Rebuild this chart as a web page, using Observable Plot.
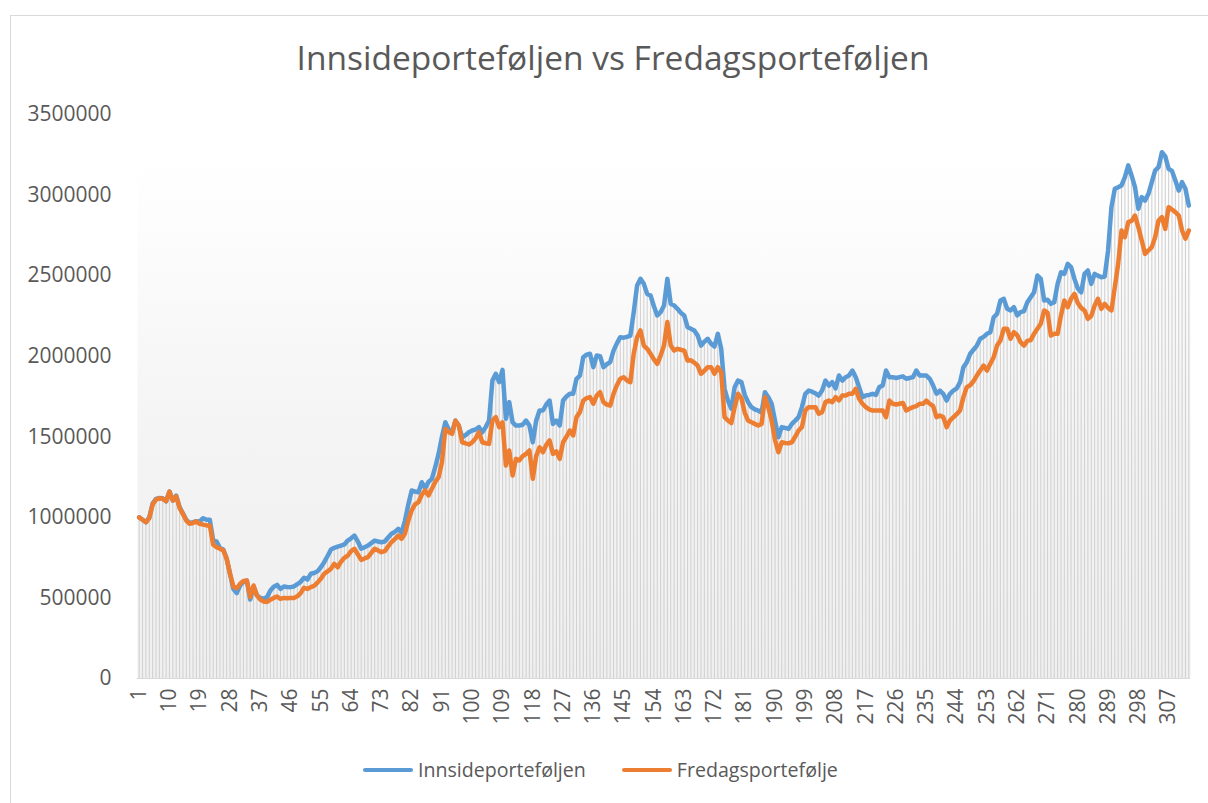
<!DOCTYPE html>
<html>
<head>
<meta charset="utf-8">
<script src="https://cdn.jsdelivr.net/npm/d3@7"></script>
<script src="https://cdn.jsdelivr.net/npm/@observablehq/plot@0.6"></script>
<style>
  body { margin: 0; background: #fff; font-family: "Open Sans", sans-serif; width: 1208px; height: 803px; overflow: hidden; position: relative; }
  #frame { position: absolute; left: 10px; top: 15px; width: 1300px; height: 900px; border: 1px solid #d9d9d9; box-sizing: border-box; }
  #title { position: absolute; left: 0; top: 34px; width: 1226px; text-align: center; font-size: 33.5px; line-height: 46px; color: #595959; white-space: nowrap; }
  #chart { position: absolute; left: 0; top: 90px; }
  #legend { position: absolute; left: 363px; top: 755px; display: flex; align-items: center; font-size: 19.6px; color: #595959; white-space: nowrap; line-height: 30px; }
  .sw { display: inline-block; width: 50px; height: 4px; border-radius: 2px; margin-right: 5px; }
  .item { display: flex; align-items: center; }
</style>
</head>
<body>
<div id="frame"></div>
<div id="title">Innsideporteføljen vs Fredagsporteføljen</div>
<div id="chart"></div>
<div id="legend"></div>
<script>
// ---- data ----
const seriesNames = ["Innsideporteføljen", "Fredagsportefølje"];
const seriesColors = ["#5B9BD5", "#ED7D31"];
const yTicks = [0, 500000, 1000000, 1500000, 2000000, 2500000, 3000000, 3500000];
const xTicks = [1, 10, 19, 28, 37, 46, 55, 64, 73, 82, 91, 100, 109, 118, 127, 136, 145, 154, 163, 172, 181, 190, 199, 208, 217, 226, 235, 244, 253, 262, 271, 280, 289, 298, 307];

const innside = [
1000000, 985000, 970000, 1000000, 1085000, 1115000, 1120000, 1118000, 1100000, 1160000,
1105000, 1135000, 1063000, 1025000, 985000, 965000, 970000, 976000, 975000, 995000,
985000, 985000, 855000, 850000, 810000, 800000, 745000, 650000, 555000, 530000,
577000, 600000, 608000, 490000, 570000, 515000, 500000, 495000, 505000, 546000,
570000, 581000, 556000, 571000, 568000, 567000, 571000, 585000, 600000, 625000,
614000, 650000, 655000, 665000, 690000, 722000, 760000, 800000, 811000, 818000,
825000, 832000, 856000, 870000, 887000, 850000, 805000, 815000, 825000, 840000,
856000, 850000, 846000, 850000, 875000, 898000, 910000, 929000, 905000, 980000,
1080000, 1167000, 1160000, 1156000, 1218000, 1180000, 1220000, 1239000, 1311000, 1394000,
1500000, 1590000, 1545000, 1528000, 1600000, 1570000, 1497000, 1510000, 1528000, 1539000,
1545000, 1560000, 1528000, 1560000, 1601000, 1849000, 1891000, 1839000, 1915000, 1612000,
1715000, 1590000, 1570000, 1570000, 1575000, 1601000, 1570000, 1466000, 1600000, 1663000,
1663000, 1700000, 1725000, 1580000, 1600000, 1570000, 1725000, 1750000, 1767000, 1767000,
1860000, 1880000, 1994000, 2010000, 2015000, 1932000, 2004000, 2000000, 1932000, 1950000,
1963000, 2035000, 2080000, 2118000, 2115000, 2120000, 2128000, 2273000, 2439000, 2480000,
2449000, 2387000, 2377000, 2310000, 2253000, 2273000, 2315000, 2480000, 2325000, 2315000,
2294000, 2270000, 2253000, 2180000, 2170000, 2160000, 2128000, 2066000, 2090000, 2108000,
2077000, 2060000, 2139000, 2046000, 1798000, 1725000, 1674000, 1808000, 1849000, 1840000,
1760000, 1715000, 1684000, 1670000, 1663000, 1650000, 1777000, 1746000, 1705000, 1600000,
1497000, 1560000, 1555000, 1549000, 1580000, 1600000, 1622000, 1684000, 1767000, 1787000,
1780000, 1770000, 1756000, 1787000, 1849000, 1818000, 1839000, 1800000, 1880000, 1849000,
1870000, 1880000, 1911000, 1870000, 1808000, 1746000, 1756000, 1760000, 1767000, 1760000,
1808000, 1818000, 1911000, 1870000, 1870000, 1865000, 1870000, 1875000, 1860000, 1865000,
1870000, 1911000, 1880000, 1880000, 1880000, 1860000, 1818000, 1767000, 1787000, 1767000,
1725000, 1767000, 1787000, 1800000, 1839000, 1932000, 1963000, 2015000, 2040000, 2066000,
2108000, 2120000, 2139000, 2149000, 2242000, 2263000, 2346000, 2356000, 2294000, 2284000,
2304000, 2253000, 2273000, 2280000, 2335000, 2366000, 2397000, 2501000, 2480000, 2346000,
2350000, 2325000, 2335000, 2449000, 2521000, 2511000, 2573000, 2553000, 2480000, 2420000,
2397000, 2511000, 2532000, 2449000, 2511000, 2500000, 2490000, 2495000, 2656000, 2925000,
3039000, 3049000, 3060000, 3111000, 3184000, 3120000, 3049000, 2915000, 2987000, 2966000,
3008000, 3080000, 3153000, 3173000, 3266000, 3240000, 3163000, 3150000, 3090000, 3028000,
3080000, 3039000, 2935000
];

const fredag = [
1000000, 985000, 970000, 995000, 1080000, 1110000, 1118000, 1115000, 1100000, 1160000,
1105000, 1130000, 1060000, 1020000, 980000, 960000, 965000, 975000, 960000, 955000,
950000, 950000, 830000, 815000, 805000, 795000, 743000, 650000, 570000, 560000,
588000, 605000, 608000, 505000, 577000, 515000, 490000, 478000, 475000, 489000,
500000, 509000, 494000, 500000, 498000, 500000, 500000, 510000, 530000, 563000,
556000, 567000, 575000, 595000, 619000, 650000, 665000, 681000, 712000, 690000,
725000, 749000, 763000, 790000, 805000, 770000, 736000, 745000, 753000, 780000,
805000, 795000, 784000, 790000, 820000, 846000, 865000, 887000, 867000, 900000,
980000, 1043000, 1080000, 1094000, 1140000, 1167000, 1136000, 1177000, 1220000, 1249000,
1342000, 1549000, 1530000, 1518000, 1600000, 1570000, 1466000, 1460000, 1452000, 1466000,
1490000, 1528000, 1466000, 1460000, 1456000, 1601000, 1622000, 1560000, 1590000, 1322000,
1415000, 1260000, 1363000, 1353000, 1380000, 1394000, 1415000, 1239000, 1380000, 1435000,
1404000, 1450000, 1477000, 1394000, 1410000, 1363000, 1466000, 1500000, 1539000, 1508000,
1622000, 1653000, 1725000, 1740000, 1746000, 1705000, 1756000, 1777000, 1715000, 1700000,
1694000, 1767000, 1820000, 1860000, 1870000, 1850000, 1839000, 2015000, 2118000, 2160000,
2066000, 2046000, 2015000, 1980000, 1953000, 2004000, 2066000, 2212000, 2066000, 2035000,
2046000, 2040000, 2035000, 1973000, 1975000, 1960000, 1942000, 1891000, 1910000, 1932000,
1932000, 1891000, 1932000, 1900000, 1622000, 1601000, 1585000, 1684000, 1767000, 1740000,
1650000, 1601000, 1590000, 1580000, 1570000, 1580000, 1746000, 1684000, 1601000, 1480000,
1404000, 1466000, 1462000, 1460000, 1466000, 1500000, 1539000, 1560000, 1663000, 1684000,
1684000, 1684000, 1643000, 1653000, 1715000, 1725000, 1715000, 1746000, 1725000, 1756000,
1756000, 1767000, 1767000, 1798000, 1736000, 1705000, 1684000, 1670000, 1663000, 1663000,
1663000, 1663000, 1622000, 1725000, 1705000, 1700000, 1705000, 1710000, 1663000, 1675000,
1684000, 1690000, 1705000, 1705000, 1725000, 1705000, 1690000, 1622000, 1632000, 1622000,
1560000, 1601000, 1620000, 1640000, 1663000, 1746000, 1808000, 1820000, 1845000, 1880000,
1911000, 1942000, 1911000, 1953000, 1994000, 2066000, 2098000, 2170000, 2170000, 2108000,
2149000, 2130000, 2087000, 2066000, 2095000, 2100000, 2139000, 2170000, 2201000, 2284000,
2270000, 2128000, 2139000, 2139000, 2253000, 2346000, 2304000, 2356000, 2387000, 2330000,
2300000, 2284000, 2232000, 2250000, 2315000, 2356000, 2294000, 2325000, 2300000, 2284000,
2428000, 2573000, 2780000, 2739000, 2832000, 2840000, 2873000, 2801000, 2718000, 2635000,
2656000, 2677000, 2739000, 2842000, 2863000, 2790000, 2925000, 2910000, 2894000, 2873000,
2780000, 2729000, 2780000
];

const period = d3.range(1, innside.length + 1);
const rows = period.map((p, k) => ({p, inn: innside[k], fre: fredag[k]}));

const chart = Plot.plot({
  width: 1208,
  height: 650,
  marginLeft: 137,
  marginRight: 18,
  marginTop: 24,
  marginBottom: 62,
  style: {fontFamily: "Open Sans, sans-serif", fontSize: "21px", color: "#595959", background: "transparent", overflow: "visible"},
  x: {type: "linear", domain: [0.5, innside.length + 0.5]},
  y: {domain: [0, 3500000]},
  marks: [
    Plot.frame({fill: "url(#plotbg)", stroke: null}),
    Plot.ruleX(rows, {x: "p", y1: 0, y2: d => Math.max(d.inn, d.fre), stroke: "#d2d2d2", strokeWidth: 1.1}),
    Plot.ruleY([0], {stroke: "#d9d9d9", strokeWidth: 1}),
    Plot.lineY(rows, {x: "p", y: "inn", stroke: seriesColors[0], strokeWidth: 4.5, strokeLinejoin: "round", strokeLinecap: "round"}),
    Plot.lineY(rows, {x: "p", y: "fre", stroke: seriesColors[1], strokeWidth: 4.5, strokeLinejoin: "round", strokeLinecap: "round"}),
    Plot.axisY({ticks: yTicks, tickFormat: d => String(d), tickSize: 0, tickPadding: 26, fill: "#595959", label: null}),
    Plot.axisX({ticks: xTicks, tickFormat: d => String(d), tickRotate: -90, tickSize: 0, tickPadding: 10, fill: "#595959", label: null})
  ]
});

d3.select(chart).insert("defs", ":first-child").html(
  '<linearGradient id="plotbg" x1="0" y1="0" x2="0" y2="1">' +
  '<stop offset="0" stop-color="#ffffff"/>' +
  '<stop offset="0.13" stop-color="#fefefe"/>' +
  '<stop offset="0.6" stop-color="#f3f3f3"/>' +
  '<stop offset="1" stop-color="#f0f0f0"/>' +
  '</linearGradient>');

document.getElementById("chart").appendChild(chart);

const legend = d3.select("#legend");
seriesNames.forEach((name, k) => {
  const item = legend.append("div").attr("class", "item").style("margin-right", k === 0 ? "36px" : "0");
  item.append("span").attr("class", "sw").style("background", seriesColors[k]);
  item.append("span").text(name);
});
</script>
</body>
</html>
